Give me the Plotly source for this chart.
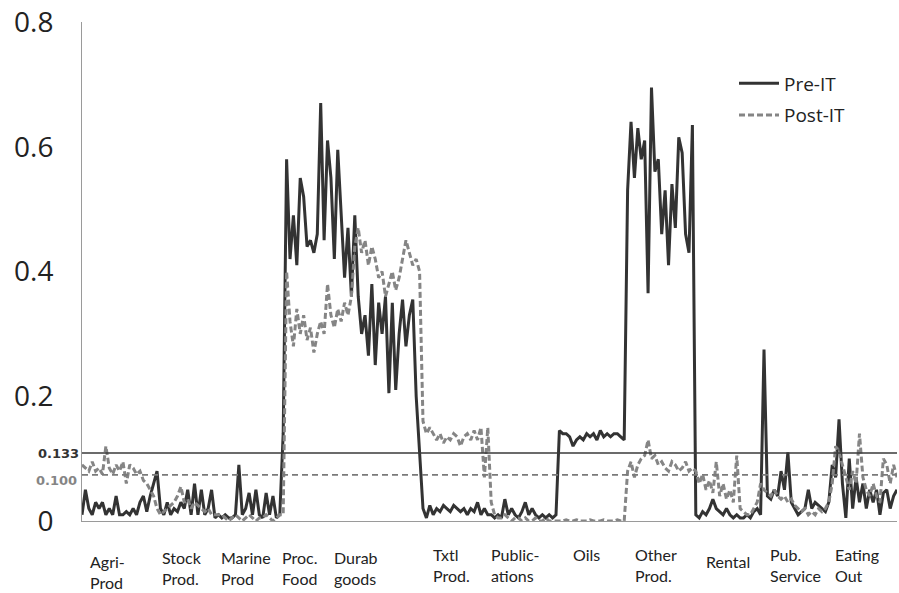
import plotly.graph_objects as go

# ---------------- data ----------------
categories = ["Agri-<br>Prod", "Stock<br>Prod.", "Marine<br>Prod", "Proc.<br>Food",
              "Durab<br>goods", "Txtl<br>Prod.", "Public-<br>ations", "Oils",
              "Other<br>Prod.", "Rental", "Pub.<br>Service", "Eating<br>Out"]

pre_it = [
    # Agri-Prod
    0.01, 0.05, 0.02, 0.01, 0.03, 0.02, 0.03, 0.01, 0.02, 0.01, 0.04, 0.01, 0.01, 0.015, 0.01, 0.02, 0.01, 0.03, 0.04, 0.015,
    # Stock Prod.
    0.04, 0.06, 0.08, 0.02, 0.01, 0.03, 0.01, 0.02, 0.015, 0.03, 0.02, 0.05, 0.01, 0.06, 0.01, 0.05, 0.01, 0.02, 0.05, 0.005,
    # Marine Prod
    0.01, 0.005, 0.01, 0.005, 0.005, 0.01, 0.09, 0.01, 0.02, 0.045, 0.01, 0.05, 0.01, 0.005, 0.045, 0.01, 0.04, 0.005, 0.01, 0.14,
    # Proc. Food
    0.58, 0.42, 0.49, 0.41, 0.55, 0.52, 0.44, 0.45, 0.43, 0.46, 0.67, 0.45, 0.61, 0.55, 0.42, 0.595, 0.50, 0.39, 0.47, 0.36,
    # Durab goods
    0.49, 0.36, 0.30, 0.33, 0.265, 0.38, 0.25, 0.35, 0.30, 0.36, 0.205, 0.35, 0.21, 0.30, 0.355, 0.28, 0.33, 0.355, 0.20, 0.10,
    # Txtl Prod.
    0.02, 0.005, 0.025, 0.01, 0.02, 0.015, 0.025, 0.02, 0.015, 0.025, 0.02, 0.015, 0.02, 0.01, 0.02, 0.015, 0.03, 0.01, 0.02, 0.01,
    # Publications
    0.01, 0.005, 0.01, 0.005, 0.035, 0.01, 0.02, 0.01, 0.005, 0.015, 0.03, 0.01, 0.02, 0.01, 0.005, 0.01, 0.005, 0.01, 0.005, 0.01,
    # Oils
    0.145, 0.14, 0.14, 0.135, 0.12, 0.13, 0.135, 0.13, 0.14, 0.135, 0.14, 0.13, 0.145, 0.135, 0.14, 0.135, 0.14, 0.14, 0.135, 0.13,
    # Other Prod.
    0.53, 0.64, 0.55, 0.63, 0.58, 0.61, 0.365, 0.695, 0.56, 0.58, 0.46, 0.53, 0.41, 0.54, 0.47, 0.615, 0.59, 0.46, 0.43, 0.635,
    # Rental
    0.01, 0.005, 0.015, 0.01, 0.02, 0.035, 0.02, 0.015, 0.01, 0.02, 0.01, 0.005, 0.01, 0.005, 0.005, 0.01, 0.005, 0.015, 0.02, 0.01,
    # Pub. Service
    0.275, 0.04, 0.035, 0.05, 0.04, 0.08, 0.05, 0.11, 0.03, 0.02, 0.01, 0.015, 0.02, 0.05, 0.02, 0.03, 0.025, 0.02, 0.015, 0.03,
    # Eating Out
    0.09, 0.07, 0.163, 0.06, 0.005, 0.10, 0.02, 0.07, 0.03, 0.06, 0.02, 0.05, 0.03, 0.05, 0.01, 0.045, 0.05, 0.02, 0.04, 0.05,
]

post_it = [
    # Agri-Prod
    0.09, 0.085, 0.08, 0.095, 0.08, 0.085, 0.075, 0.12, 0.085, 0.075, 0.09, 0.08, 0.095, 0.06, 0.09, 0.085, 0.075, 0.08, 0.065, 0.06,
    # Stock Prod.
    0.05, 0.04, 0.02, 0.01, 0.015, 0.02, 0.025, 0.03, 0.04, 0.055, 0.03, 0.035, 0.02, 0.03, 0.025, 0.02, 0.015, 0.02, 0.01, 0.01,
    # Marine Prod
    0.01, 0.01, 0.005, 0.0, 0.005, 0.01, 0.005, 0.0, 0.005, 0.01, 0.005, 0.0, 0.005, 0.005, 0.01, 0.005, 0.0, 0.005, 0.01, 0.01,
    # Proc. Food
    0.40, 0.32, 0.28, 0.34, 0.30, 0.33, 0.29, 0.31, 0.27, 0.30, 0.32, 0.30, 0.38, 0.33, 0.31, 0.34, 0.32, 0.35, 0.33, 0.36,
    # Durab goods
    0.44, 0.47, 0.43, 0.45, 0.41, 0.44, 0.42, 0.39, 0.40, 0.36, 0.38, 0.40, 0.37, 0.39, 0.42, 0.45, 0.43, 0.41, 0.42, 0.40,
    # Txtl Prod.
    0.16, 0.14, 0.15, 0.14, 0.13, 0.14, 0.125, 0.135, 0.13, 0.14, 0.135, 0.12, 0.135, 0.14, 0.13, 0.145, 0.13, 0.15, 0.07, 0.15,
    # Publications
    0.03, 0.01, 0.005, 0.005, 0.01, 0.005, 0.0, 0.005, 0.005, 0.0, 0.005, 0.0, 0.0, 0.005, 0.0, 0.0, 0.005, 0.0, 0.0, 0.0,
    # Oils
    0.0, 0.0, 0.002, 0.0, 0.0, 0.002, 0.0, 0.0, 0.0, 0.002, 0.0, 0.0, 0.0, 0.002, 0.0, 0.0, 0.0, 0.002, 0.0, 0.0,
    # Other Prod.
    0.08, 0.095, 0.07, 0.09, 0.10, 0.105, 0.13, 0.10, 0.105, 0.09, 0.095, 0.085, 0.08, 0.095, 0.09, 0.08, 0.085, 0.095, 0.08, 0.085,
    # Rental
    0.08, 0.06, 0.075, 0.05, 0.065, 0.045, 0.095, 0.04, 0.06, 0.035, 0.05, 0.03, 0.105, 0.02, 0.015, 0.01, 0.01, 0.02, 0.03, 0.06,
    # Pub. Service
    0.05, 0.045, 0.04, 0.05, 0.04, 0.035, 0.04, 0.03, 0.035, 0.025, 0.02, 0.015, 0.02, 0.01, 0.015, 0.01, 0.02, 0.015, 0.02, 0.03,
    # Eating Out
    0.06, 0.12, 0.11, 0.09, 0.07, 0.05, 0.08, 0.06, 0.14, 0.07, 0.05, 0.04, 0.06, 0.04, 0.03, 0.10, 0.09, 0.06, 0.09, 0.07,
]

threshold_labels = ["0.133", "0.100"]
threshold_levels = [0.109, 0.074]   # where the reference draws them on the axis

y_ticks = [0, 0.2, 0.4, 0.6, 0.8]
y_tick_text = ["0", "0.2", "0.4", "0.6", "0.8"]

# ---------------- layout helpers ----------------
label_x = [7.6, 29.3, 48.1, 63.9, 80.4, 108.5, 127.0, 147.8, 168.3, 189.4, 209.1, 227.3]
label_y = [-0.058, -0.050, -0.050, -0.050, -0.050, -0.044, -0.044, -0.044, -0.044, -0.058, -0.044, -0.044]

n = len(pre_it)
xs = list(range(n))

fig = go.Figure()
fig.add_trace(go.Scatter(x=xs, y=pre_it, mode="lines", name="Pre-IT", legendgroup="a",
                         line=dict(color="#333333", width=3)))
fig.add_trace(go.Scatter(x=xs, y=post_it, mode="lines", name="Post-IT", legendgroup="b",
                         line=dict(color="#858585", width=3, dash="6px,3px")))

# threshold lines
fig.add_hline(y=threshold_levels[0], line=dict(color="#3a3a3a", width=1.6))
fig.add_hline(y=threshold_levels[1], line=dict(color="#7a7a7a", width=1.6, dash="6px,4px"))

fig.add_annotation(x=0, xref="paper", xanchor="right", xshift=-1, y=threshold_levels[0], yref="y",
                   text="<b>" + threshold_labels[0] + "</b>", showarrow=False,
                   font=dict(family="DejaVu Sans", size=13, color="#333333"))
fig.add_annotation(x=0, xref="paper", xanchor="right", xshift=-3, y=threshold_levels[1], yref="y",
                   yshift=-6, text="<b>" + threshold_labels[1] + "</b>", showarrow=False,
                   font=dict(family="DejaVu Sans", size=13, color="#858585"))

for cat, lx, ly in zip(categories, label_x, label_y):
    fig.add_annotation(x=lx, xref="x", y=ly, yref="paper", yanchor="top", xanchor="center",
                       text=cat, showarrow=False, align="left",
                       font=dict(family="Lato", size=16, color="#222222"))

fig.update_layout(
    width=899, height=593,
    margin=dict(l=82, r=2, t=22, b=72),
    paper_bgcolor="white", plot_bgcolor="white",
    showlegend=True,
    legend=dict(x=0.80, y=0.915, xanchor="left", yanchor="top",
                font=dict(family="Open Sans", size=19, color="#222222"),
                bgcolor="rgba(0,0,0,0)", tracegroupgap=4, itemwidth=40),
    xaxis=dict(range=[0, n - 1], showgrid=False, zeroline=False, showticklabels=False,
               showline=True, linecolor="#9a9a9a", linewidth=1, ticks=""),
    yaxis=dict(range=[0, 0.8], tickvals=y_ticks, ticktext=y_tick_text, showgrid=False,
               zeroline=False, showline=True, linecolor="#9a9a9a", linewidth=1,
               ticks="outside", ticklen=22, tickcolor="rgba(0,0,0,0)",
               tickfont=dict(family="Open Sans", size=28, color="#222222")),
)

fig.write_html("out.html")
